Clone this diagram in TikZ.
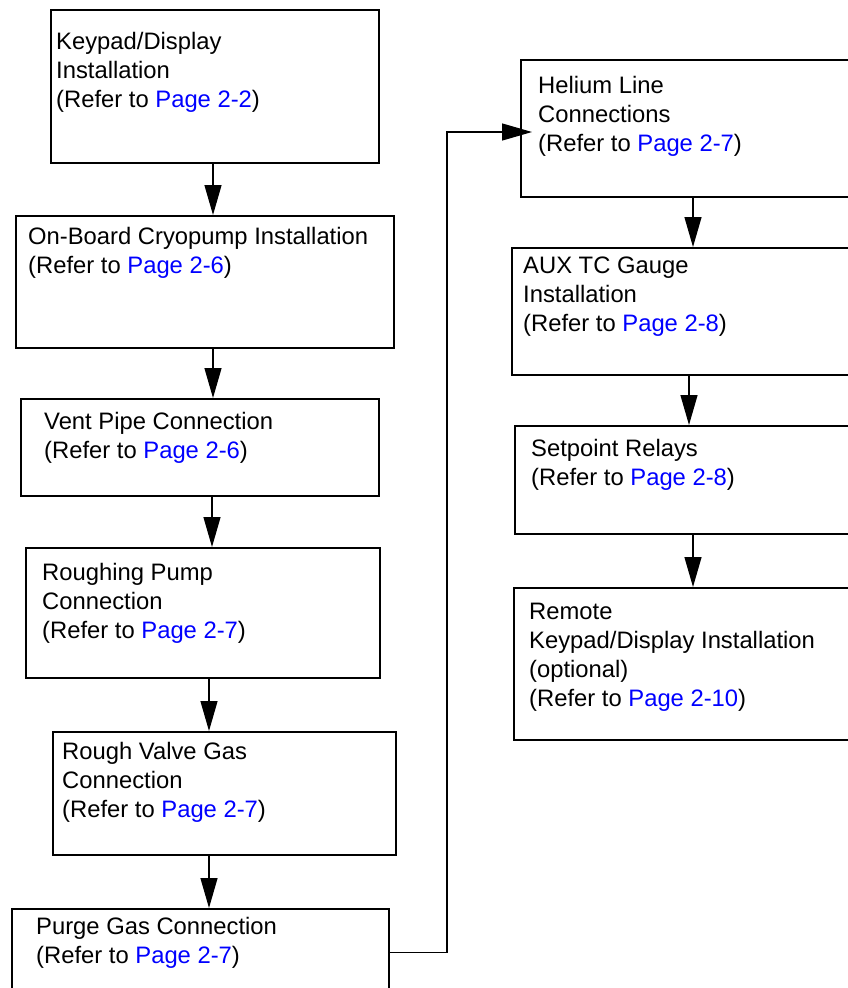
\documentclass[tikz,border=0pt]{standalone}
\usepackage{fontspec}
\setmainfont{Liberation Sans}
\usetikzlibrary{arrows.meta,calc}
\definecolor{linkblue}{RGB}{0,0,255}
\newcommand{\pglink}[1]{\textcolor{linkblue}{#1}}
\newcommand{\lines}[1]{\begin{tabular}[t]{@{}l@{}}#1\end{tabular}}
\begin{document}
\begin{tikzpicture}[x=1pt,y=-1pt,
  box/.style={draw, line width=1.6pt, rectangle, inner sep=0pt, anchor=north west},
  txt/.style={anchor=base west, inner sep=0pt, font=\fontsize{23.8}{29.3}\selectfont},
  arr/.style={line width=1.3pt, -{Triangle[length=30pt,width=17pt]}}]
\useasboundingbox (0,0) rectangle (848,988);
\clip (0,0) rectangle (848,988);
% boxes
\node[box, minimum width=328pt, minimum height=153pt] (b1) at (50,9) {};
\node[box, minimum width=378pt, minimum height=132pt] (b2) at (15,215) {};
\node[box, minimum width=358pt, minimum height=97pt] (b3) at (20,398) {};
\node[box, minimum width=354pt, minimum height=130pt] (b4) at (25,547) {};
\node[box, minimum width=343pt, minimum height=123pt] (b5) at (52,731) {};
\node[box, minimum width=377pt, minimum height=88pt] (b6) at (11,908) {};
\node[box, minimum width=350pt, minimum height=137pt] (b7) at (520,59) {};
\node[box, minimum width=359pt, minimum height=127pt] (b8) at (511,247) {};
\node[box, minimum width=356pt, minimum height=108pt] (b9) at (514,425) {};
\node[box, minimum width=357pt, minimum height=152pt] (b10) at (513,587) {};
% texts
\node[txt] (t1) at (56,49) {\lines{Keypad/Display\\Installation\\(Refer to \pglink{Page 2-2})}};
\node[txt] (t2) at (28,244) {\lines{On-Board Cryopump Installation\\(Refer to \pglink{Page 2-6})}};
\node[txt] (t3) at (44,429) {\lines{Vent Pipe Connection\\(Refer to \pglink{Page 2-6})}};
\node[txt] (t4) at (42,580) {\lines{Roughing Pump\\Connection\\(Refer to \pglink{Page 2-7})}};
\node[txt] (t5) at (62,759) {\lines{Rough Valve Gas\\Connection\\(Refer to \pglink{Page 2-7})}};
\node[txt] (t6) at (36,934) {\lines{Purge Gas Connection\\(Refer to \pglink{Page 2-7})}};
\node[txt] (t7) at (538,93) {\lines{Helium Line\\Connections\\(Refer to \pglink{Page 2-7})}};
\node[txt] (t8) at (523,273) {\lines{AUX TC Gauge\\Installation\\(Refer to \pglink{Page 2-8})}};
\node[txt] (t9) at (531,456) {\lines{Setpoint Relays\\(Refer to \pglink{Page 2-8})}};
\node[txt] (t10) at (529,619) {\lines{Remote\\Keypad/Display Installation\\(optional)\\(Refer to \pglink{Page 2-10})}};
% connector x positions
\coordinate (xa) at (213,0);
\coordinate (xb) at (212,0);
\coordinate (xc) at (209,0);
\coordinate (xd) at (693,0);
\coordinate (xe) at (689,0);
\coordinate (bend) at (447,132);
% arrows
\draw[arr] (b1.south -| xa) -- (b2.north -| xa);
\draw[arr] (b2.south -| xa) -- (b3.north -| xa);
\draw[arr] (b3.south -| xb) -- (b4.north -| xb);
\draw[arr] (b4.south -| xc) -- (b5.north -| xc);
\draw[arr] (b5.south -| xc) -- (b6.north -| xc);
\draw[arr] (b6.east) -| (bend) -- ($(bend -| b7.west)+(12,0)$);
\draw[arr] (b7.south -| xd) -- (b8.north -| xd);
\draw[arr] (b8.south -| xe) -- (b9.north -| xe);
\draw[arr] (b9.south -| xd) -- (b10.north -| xd);
\end{tikzpicture}
\end{document}
